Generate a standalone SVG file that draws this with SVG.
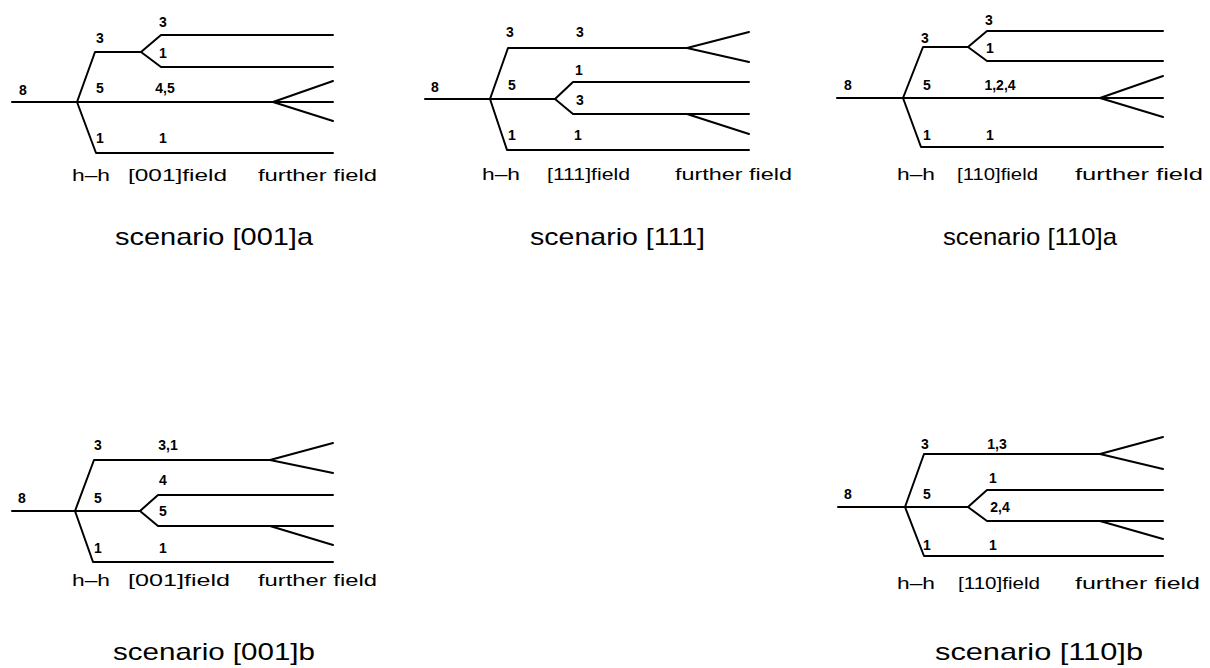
<svg xmlns="http://www.w3.org/2000/svg" width="1210" height="668" viewBox="0 0 1210 668">
<style>
.ln{fill:none;stroke:#000;stroke-width:2;stroke-linejoin:round;stroke-linecap:round}
.n{font-family:"Liberation Sans",Arial,sans-serif;font-weight:bold;font-size:14px;text-anchor:middle;fill:#000}
.ax{font-family:"Liberation Sans",Arial,sans-serif;font-size:17px;fill:#000}
.tt{font-family:"Liberation Sans",Arial,sans-serif;font-size:24px;fill:#000}
</style>
<rect width="1210" height="668" fill="#fff"/>
<g id="connectors">
<!-- panel 1 [001]a -->
<path class="ln" d="M12,102 H77 L95,52 H141 L161,35 H333 M141,52 L161,67 H333 M77,102 H333 M273,102 L333,81 M273,102 L333,121 M77,102 L96,153 H333"/>
<!-- panel 2 [111] -->
<path class="ln" d="M425,99 H490 L508,48 H687 L749,32 M687,48 L749,62 M490,99 H555 L573,82 H749 M555,99 L573,114 H749 M687,114 L749,134 M490,99 L507,150 H749"/>
<!-- panel 3 [110]a -->
<path class="ln" d="M837,98 H903 L923,47 H968 L987,31 H1163 M968,47 L987,61 H1163 M903,98 H1163 M1100,98 L1163,76 M1100,98 L1163,117 M903,98 L921,147 H1163"/>
<!-- panel 4 [001]b -->
<path class="ln" d="M12,511 H75 L94,460 H270 L333,443 M270,460 L333,473 M75,511 H140 L158,495 H333 M140,511 L158,526 H333 M270,526 L333,545 M75,511 L93,562 H333"/>
<!-- panel 5 [110]b -->
<path class="ln" d="M838,507 H905 L924,454 H1100 L1163,437 M1100,454 L1163,469 M905,507 H968 L987,490 H1163 M968,507 L987,521 H1163 M1100,521 L1163,539 M905,507 L924,556 H1163"/>
</g>
<g id="scenario-001a">
<text class="n" x="23" y="95">8</text><text class="n" x="100" y="43">3</text><text class="n" x="163" y="27">3</text><text class="n" x="163" y="58">1</text><text class="n" x="100" y="93">5</text><text class="n" x="165" y="93">4,5</text><text class="n" x="100" y="143">1</text><text class="n" x="163" y="143">1</text>
<text class="ax" x="72" y="181" textLength="38" lengthAdjust="spacingAndGlyphs">h–h</text>
<text class="ax" x="128" y="181" textLength="99" lengthAdjust="spacingAndGlyphs">[001]field</text>
<text class="ax" x="258" y="181" textLength="119" lengthAdjust="spacingAndGlyphs">further field</text>
<text class="tt" x="115" y="245" textLength="198" lengthAdjust="spacingAndGlyphs">scenario [001]a</text>
</g>
<g id="scenario-111">
<text class="n" x="435" y="92">8</text><text class="n" x="510" y="37">3</text><text class="n" x="580" y="37">3</text><text class="n" x="579" y="75">1</text><text class="n" x="512" y="90">5</text><text class="n" x="580" y="105">3</text><text class="n" x="512" y="140">1</text><text class="n" x="578" y="140">1</text>
<text class="ax" x="482" y="180" textLength="38" lengthAdjust="spacingAndGlyphs">h–h</text>
<text class="ax" x="547" y="180" textLength="83" lengthAdjust="spacingAndGlyphs">[111]field</text>
<text class="ax" x="675" y="180" textLength="117" lengthAdjust="spacingAndGlyphs">further field</text>
<text class="tt" x="530" y="245" textLength="175" lengthAdjust="spacingAndGlyphs">scenario [111]</text>
</g>
<g id="scenario-110a">
<text class="n" x="848" y="90">8</text><text class="n" x="925" y="43">3</text><text class="n" x="989" y="25">3</text><text class="n" x="990" y="53">1</text><text class="n" x="927" y="90">5</text><text class="n" x="1000" y="90">1,2,4</text><text class="n" x="927" y="140">1</text><text class="n" x="990" y="140">1</text>
<text class="ax" x="897" y="180" textLength="38" lengthAdjust="spacingAndGlyphs">h–h</text>
<text class="ax" x="957" y="180" textLength="81" lengthAdjust="spacingAndGlyphs">[110]field</text>
<text class="ax" x="1075" y="180" textLength="128" lengthAdjust="spacingAndGlyphs">further field</text>
<text class="tt" x="943" y="245" textLength="174" lengthAdjust="spacingAndGlyphs">scenario [110]a</text>
</g>
<g id="scenario-001b">
<text class="n" x="22" y="503">8</text><text class="n" x="98" y="450">3</text><text class="n" x="168" y="450">3,1</text><text class="n" x="163" y="485">4</text><text class="n" x="98" y="503">5</text><text class="n" x="163" y="516">5</text><text class="n" x="98" y="553">1</text><text class="n" x="163" y="553">1</text>
<text class="ax" x="72" y="586" textLength="38" lengthAdjust="spacingAndGlyphs">h–h</text>
<text class="ax" x="128" y="586" textLength="102" lengthAdjust="spacingAndGlyphs">[001]field</text>
<text class="ax" x="258" y="586" textLength="119" lengthAdjust="spacingAndGlyphs">further field</text>
<text class="tt" x="113" y="660" textLength="202" lengthAdjust="spacingAndGlyphs">scenario [001]b</text>
</g>
<g id="scenario-110b">
<text class="n" x="848" y="499">8</text><text class="n" x="925" y="449">3</text><text class="n" x="997" y="449">1,3</text><text class="n" x="993" y="483">1</text><text class="n" x="927" y="499">5</text><text class="n" x="1000" y="512">2,4</text><text class="n" x="927" y="550">1</text><text class="n" x="993" y="550">1</text>
<text class="ax" x="897" y="589" textLength="38" lengthAdjust="spacingAndGlyphs">h–h</text>
<text class="ax" x="958" y="589" textLength="82" lengthAdjust="spacingAndGlyphs">[110]field</text>
<text class="ax" x="1075" y="589" textLength="125" lengthAdjust="spacingAndGlyphs">further field</text>
<text class="tt" x="935" y="660" textLength="208" lengthAdjust="spacingAndGlyphs">scenario [110]b</text>
</g>
</svg>
